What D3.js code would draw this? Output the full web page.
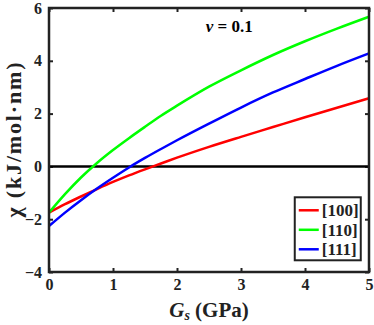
<!DOCTYPE html>
<html>
<head>
<meta charset="utf-8">
<script src="https://cdn.jsdelivr.net/npm/d3@7"></script>
<style>
  body { margin: 0; background: #fff; }
  svg text, svg tspan { font-family: "Liberation Serif", "Times New Roman", Times, serif !important; }
</style>
</head>
<body>
<div id="chart"></div>
<script>
// shear modulus grid (GPa)
let gs = [0, 0.25, 0.5, 0.75, 1.0, 1.25, 1.5, 1.75, 2.0, 2.5, 3.0, 3.5, 4.0, 4.5, 5.0]

let chi100 = [-1.75, -1.43, -1.14, -0.86, -0.59, -0.34, -0.11, 0.11, 0.33, 0.74, 1.12, 1.49, 1.86, 2.22, 2.58]
let chi110 = [-1.75, -1.05, -0.42, 0.13, 0.62, 1.07, 1.50, 1.92, 2.30, 3.02, 3.64, 4.22, 4.74, 5.22, 5.67]
let chi111 = [-2.26, -1.75, -1.28, -0.84, -0.43, -0.04, 0.32, 0.66, 0.99, 1.62, 2.23, 2.80, 3.31, 3.81, 4.28]

let seriesNames = ["[100]", "[110]", "[111]"]
let seriesColors = ["#ff0000", "#00ff00", "#0000ff"]
let seriesValues = [chi100, chi110, chi111]

let xTicks = [0, 1, 2, 3, 4, 5]
let yTicks = [-4, -2, 0, 2, 4, 6]

let margins = {top: 8, right: 5, bottom: 53, left: 49}
let width = 374 - margins.left - margins.right
let height = 325 - margins.top - margins.bottom

let svg = d3.select("#chart").append("svg")
    .attr("width", 374).attr("height", 325)
let g = svg.append("g")
    .attr("transform", `translate(${margins.left}, ${margins.top})`)

let x = d3.scaleLinear().domain([0, 5]).range([0, width])
let y = d3.scaleLinear().domain([-4, 6]).range([height, 0])

// ticks inside the box on all four sides
let tickLen = 4
let axes = [
    [d3.axisBottom(x).tickValues(xTicks), `translate(0, ${height})`, true],
    [d3.axisTop(x).tickValues(xTicks), "translate(0, 0)", false],
    [d3.axisLeft(y).tickValues(yTicks), "translate(0, 0)", true],
    [d3.axisRight(y).tickValues(yTicks), `translate(${width}, 0)`, false]
]
axes.forEach(([axis, tr, labelled]) => {
    axis.tickSize(-tickLen).tickPadding(labelled ? 7 : 0)
        .tickFormat(labelled ? d3.format("d") : "")
    let a = g.append("g").attr("transform", tr).call(axis)
    a.attr("font-family", null).attr("font-weight", "bold").attr("font-size", 16)
    a.select(".domain").remove()
    a.selectAll(".tick line").attr("stroke", "#222").attr("stroke-width", 2)
    a.selectAll(".tick text").attr("fill", "#222")
})

// zero line
g.append("line")
    .attr("x1", 0).attr("x2", width)
    .attr("y1", y(0)).attr("y2", y(0))
    .attr("stroke", "#000").attr("stroke-width", 2.5)

let line = d3.line()
    .x((d, i) => x(gs[i]))
    .y(d => y(d))
    .curve(d3.curveMonotoneX)

seriesValues.forEach((vals, k) => {
    g.append("path")
        .datum(vals)
        .attr("fill", "none")
        .attr("stroke", seriesColors[k])
        .attr("stroke-width", 2.5)
        .attr("d", line)
})

// axes box
g.append("rect")
    .attr("x", 0).attr("y", 0)
    .attr("width", width).attr("height", height)
    .attr("fill", "none").attr("stroke", "#222").attr("stroke-width", 2.5)

// annotation
let note = g.append("text")
    .attr("x", x(2.45)).attr("y", y(5.1))
    .attr("font-weight", "bold").attr("font-size", 17)
note.append("tspan").style("font-style", "italic").text("v")
note.append("tspan").text(" = 0.1")

// legend
let legend = g.append("g").attr("transform", `translate(${x(3.84)}, ${y(-1.17)})`)
legend.append("rect")
    .attr("width", 66).attr("height", 63)
    .attr("fill", "#fff").attr("stroke", "#222").attr("stroke-width", 2)
seriesNames.forEach((name, k) => {
    let row = legend.append("g").attr("transform", `translate(0, ${13 + k * 19.5})`)
    row.append("line")
        .attr("x1", 4).attr("x2", 24)
        .attr("stroke", seriesColors[k]).attr("stroke-width", 2.5)
    row.append("text")
        .attr("x", 27).attr("dy", "0.35em")
        .attr("font-weight", "bold").attr("font-size", 17).attr("fill", "#222")
        .text(name)
})

// axis labels
let xl = svg.append("text")
    .attr("x", margins.left + width / 2).attr("y", 317)
    .attr("text-anchor", "middle")
    .attr("font-weight", "bold").attr("font-size", 21).attr("fill", "#222")
xl.append("tspan").style("font-style", "italic").text("G")
xl.append("tspan").style("font-style", "italic").attr("font-size", 14).attr("dy", 3).text("s")
xl.append("tspan").attr("dy", -3).text(" (GPa)")

svg.append("text")
    .attr("transform", `translate(21, ${margins.top + height / 2}) rotate(-90)`)
    .attr("text-anchor", "middle")
    .attr("font-weight", "bold").attr("font-size", 22).attr("fill", "#222")
    .attr("textLength", 155).attr("lengthAdjust", "spacing")
    .text("χ (kJ/mol·nm)")
</script>
</body>
</html>
